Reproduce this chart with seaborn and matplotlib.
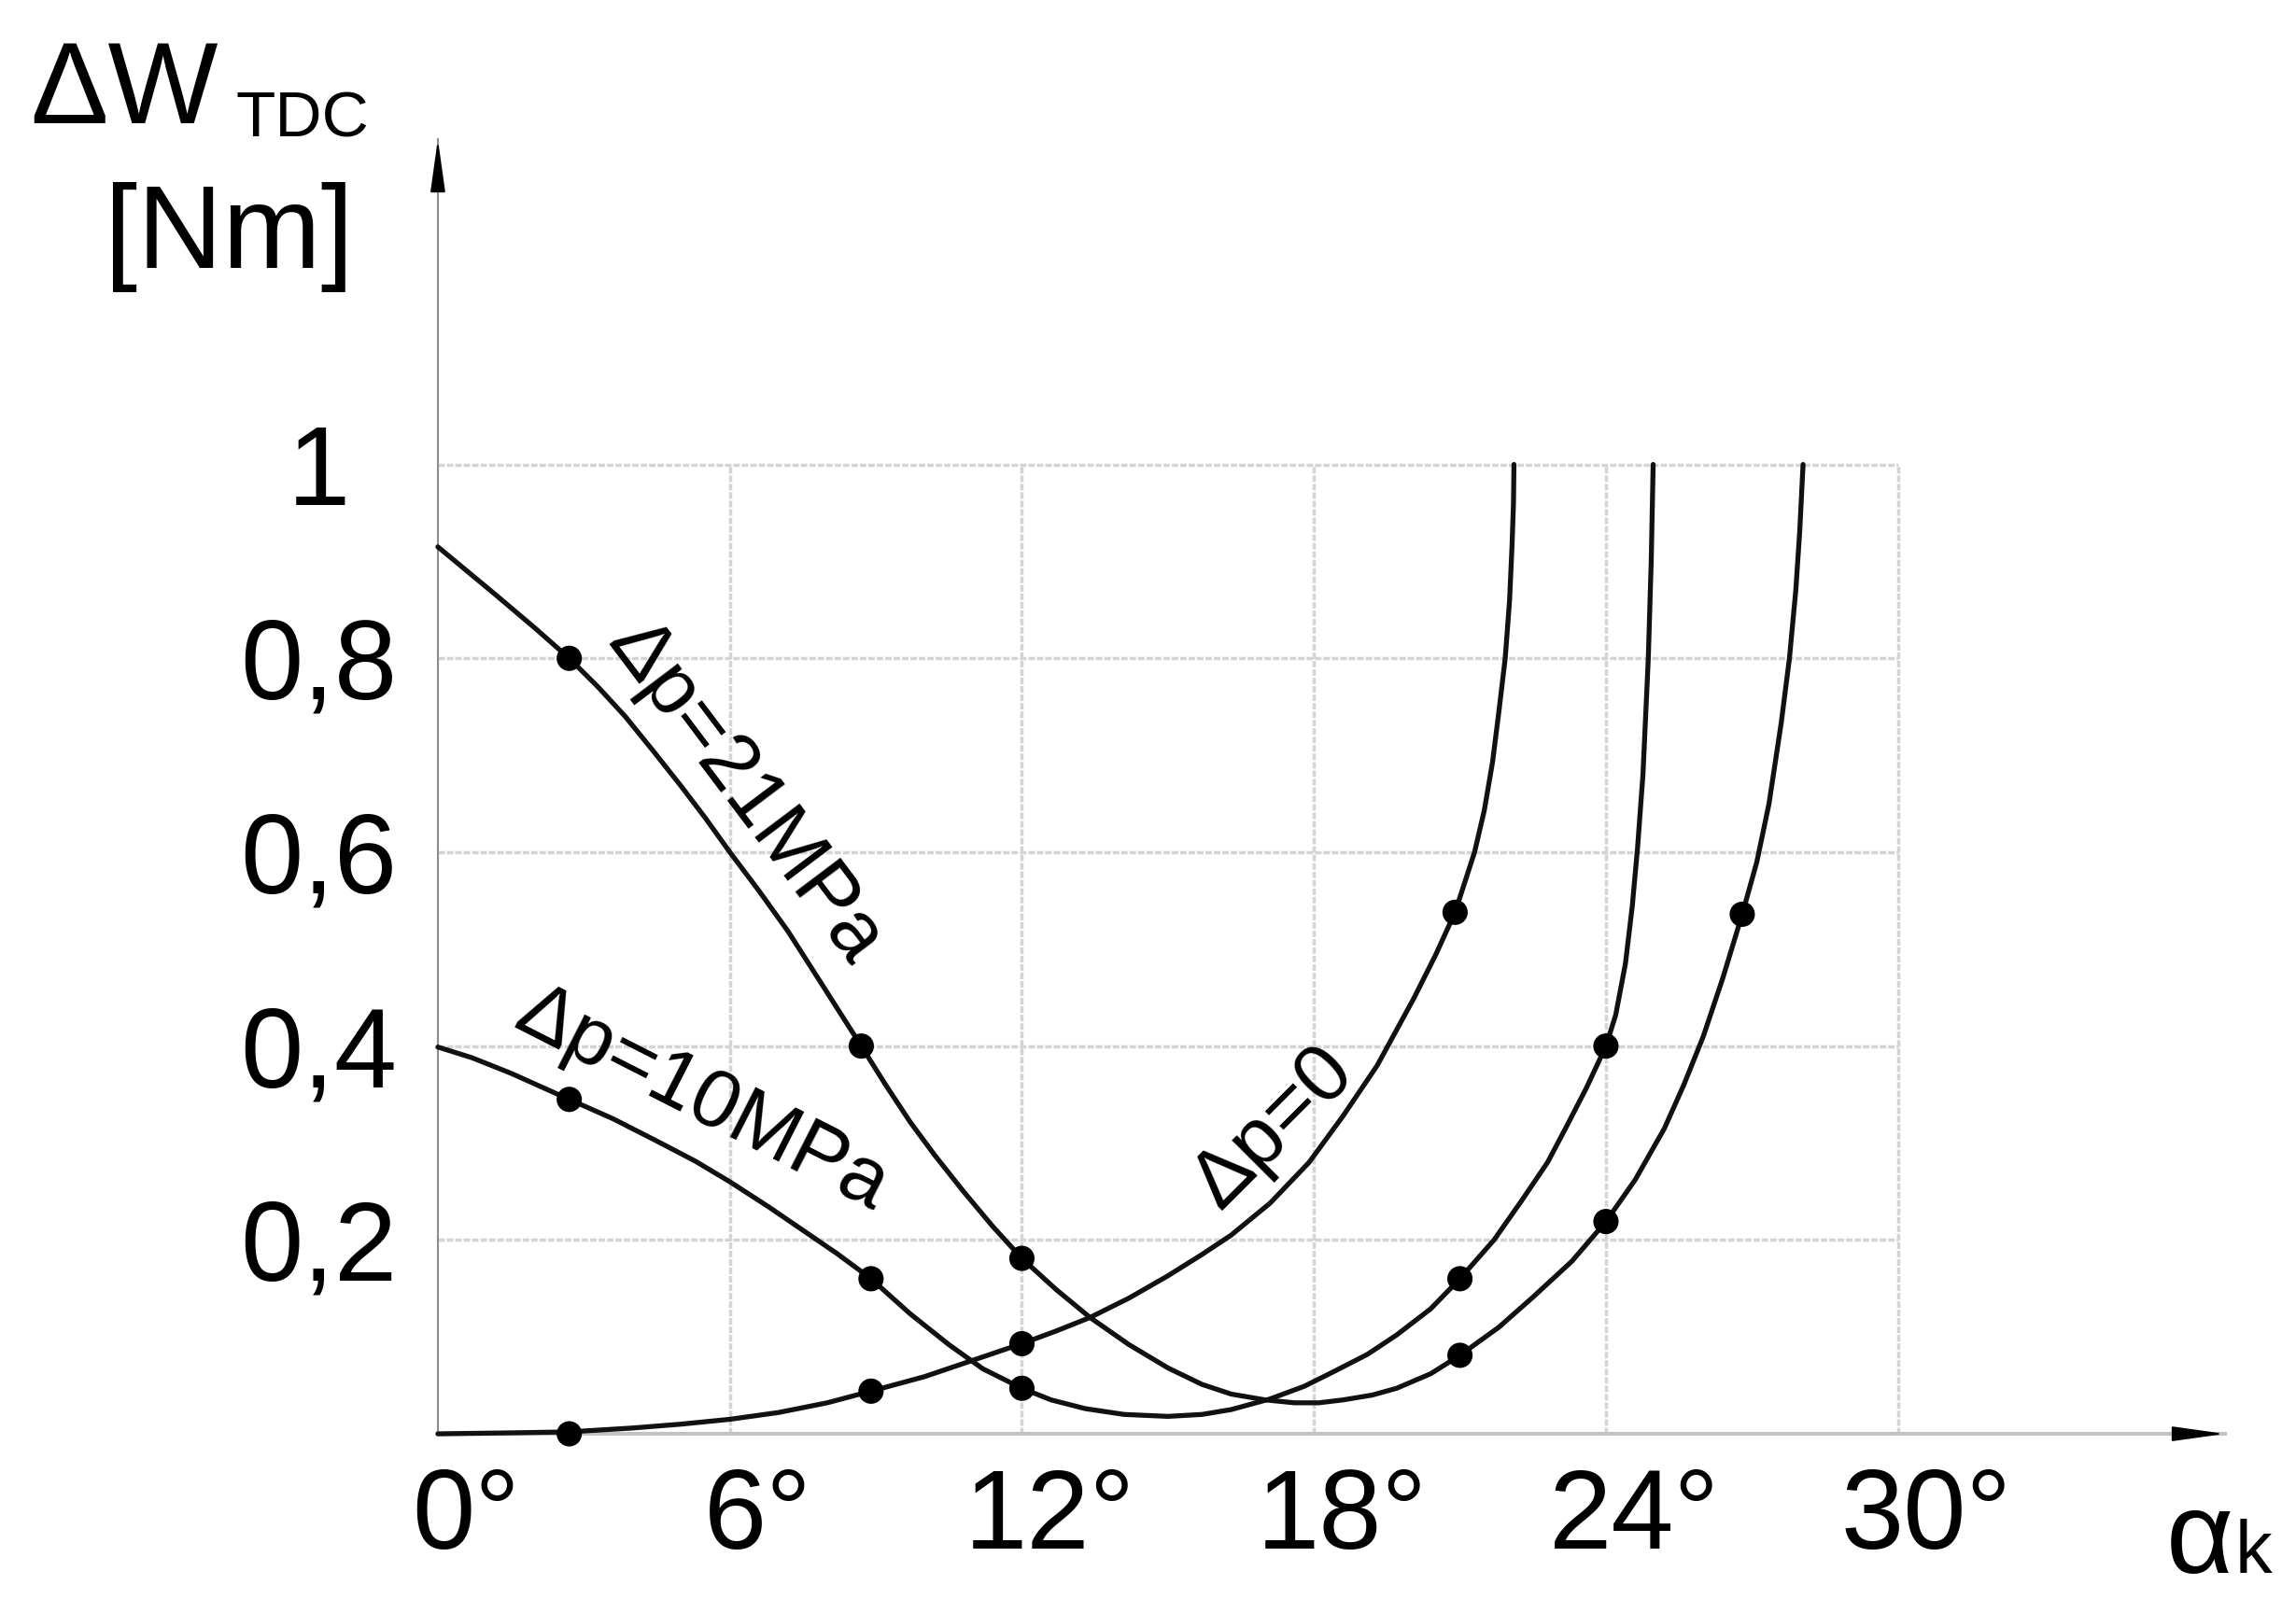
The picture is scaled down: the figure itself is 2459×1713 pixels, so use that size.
import pandas as pd
import seaborn as sns
import matplotlib.pyplot as plt
from matplotlib.transforms import ScaledTranslation

sns.set_theme(style='white')
plt.rcParams['font.family'] = ['Liberation Sans', 'DejaVu Sans']
plt.rcParams['text.color'] = 'black'

# curve dp = 0
deg_p0 = [0, 1.5, 2.7, 4.0, 5.0, 6.0, 7.0, 8.0, 8.9, 10.0, 11.0, 12.0, 12.7, 13.4, 14.2, 15.0, 15.7, 16.3,
          17.1, 17.9, 18.6, 19.3, 20.05, 20.5, 20.9, 21.3, 21.5, 21.67, 21.8, 21.93, 22.02, 22.07, 22.1, 22.11]
val_p0 = [0, 0.001, 0.002, 0.006, 0.010, 0.015, 0.022, 0.032, 0.044, 0.059, 0.076, 0.093, 0.106, 0.120, 0.140, 0.163, 0.185, 0.205,
          0.238, 0.280, 0.328, 0.380, 0.449, 0.494, 0.538, 0.600, 0.643, 0.693, 0.745, 0.800, 0.860, 0.916, 0.960, 1.0]

# curve dp = 10 MPa
deg_p10 = [0, 0.7, 1.5, 2.7, 3.6, 4.5, 5.3, 6.0, 6.8, 7.5, 8.2, 8.9, 9.7, 10.5, 11.2, 12.0, 12.6, 13.3, 14.1, 15.0,
           15.7, 16.3, 17.1, 17.8, 18.4, 19.1, 19.7, 20.4, 21.0, 21.7, 22.26, 22.8, 23.2, 23.6, 24.0, 24.2, 24.4,
           24.54, 24.65, 24.76, 24.87, 24.93, 24.97]
val_p10 = [0.399, 0.388, 0.372, 0.345, 0.325, 0.302, 0.281, 0.260, 0.234, 0.210, 0.186, 0.160, 0.124, 0.092, 0.067, 0.047,
           0.035, 0.026, 0.020, 0.018, 0.020, 0.025, 0.036, 0.049, 0.064, 0.082, 0.102, 0.129, 0.160, 0.200, 0.240, 0.280,
           0.318, 0.357, 0.400, 0.432, 0.485, 0.544, 0.605, 0.680, 0.800, 0.900, 1.0]

# curve dp = 21 MPa
deg_p21 = [0, 0.6, 1.2, 2.0, 2.7, 3.3, 3.85, 4.4, 5.0, 5.5, 6.0, 6.6, 7.2, 7.9, 8.7, 9.2, 9.7, 10.2, 10.8, 11.4,
           12.0, 12.7, 13.4, 14.2, 15.0, 15.7, 16.3, 17.0, 17.6, 18.1, 18.6, 19.2, 19.7, 20.4, 21.0, 21.8, 22.5,
           23.3, 24.0, 24.6, 25.2, 25.6, 26.0, 26.4, 26.8, 27.1, 27.35, 27.6, 27.77, 27.9, 27.98, 28.05]
val_p21 = [0.915, 0.890, 0.865, 0.831, 0.800, 0.770, 0.740, 0.706, 0.668, 0.635, 0.600, 0.560, 0.518, 0.463, 0.400,
           0.360, 0.322, 0.288, 0.250, 0.214, 0.181, 0.149, 0.120, 0.092, 0.068, 0.051, 0.041, 0.035, 0.032, 0.032,
           0.035, 0.040, 0.047, 0.062, 0.081, 0.110, 0.141, 0.178, 0.219, 0.262, 0.315, 0.360, 0.410, 0.470, 0.536,
           0.590, 0.650, 0.733, 0.800, 0.870, 0.930, 1.0]

# measured points (dots)
dot_deg_p0 = [2.7, 8.9, 12.0, 20.9]
dot_val_p0 = [0.0, 0.044, 0.093, 0.538]
dot_deg_p10 = [2.7, 8.9, 12.0, 21.0, 24.0]
dot_val_p10 = [0.345, 0.160, 0.047, 0.160, 0.400]
dot_deg_p21 = [2.7, 8.7, 12.0, 21.0, 24.0, 26.8]
dot_val_p21 = [0.800, 0.400, 0.181, 0.081, 0.219, 0.536]

x_ticks = [0, 6, 12, 18, 24, 30]
x_labels = ['0°', '6°', '12°', '18°', '24°', '30°']
y_ticks = [0.2, 0.4, 0.6, 0.8, 1.0]
y_labels = ['0,2', '0,4', '0,6', '0,8', '1']

curves = pd.concat([
    pd.DataFrame({'deg': deg_p0, 'val': val_p0, 'curve': 'p0'}),
    pd.DataFrame({'deg': deg_p10, 'val': val_p10, 'curve': 'p10'}),
    pd.DataFrame({'deg': deg_p21, 'val': val_p21, 'curve': 'p21'}),
])
dots = pd.concat([
    pd.DataFrame({'deg': dot_deg_p0, 'val': dot_val_p0}),
    pd.DataFrame({'deg': dot_deg_p10, 'val': dot_val_p10}),
    pd.DataFrame({'deg': dot_deg_p21, 'val': dot_val_p21}),
])

fig = plt.figure(figsize=(24.59, 17.13), dpi=100)
ax = fig.add_axes([0.1907, 0.1033, 0.7784, 0.8097])

# grid only inside 0..30 / 0..1
ax.hlines(y_ticks, 0, 30, colors='#d4d4d4', lw=2.5, linestyles=(0, (2, 0.6)), zorder=1)
ax.vlines(x_ticks[1:], 0, 1, colors='#d4d4d4', lw=2.5, linestyles=(0, (2, 0.6)), zorder=1)

sns.lineplot(data=curves, x='deg', y='val', hue='curve', palette=['black'] * 3,
             sort=False, estimator=None, linewidth=3.8, legend=False, ax=ax, zorder=3)
for ln in ax.get_lines():
    ln.set_clip_on(False)
    ln.set_linewidth(3.8)
    ln.set_color('#111111')
    ln.set_solid_joinstyle('round')
sns.scatterplot(data=dots, x='deg', y='val', color='black', s=380, edgecolor='none',
                zorder=5, clip_on=False, ax=ax)

ax.set_xlim(0, 36.72)
ax.set_ylim(0, 1.3356)
ax.set_xlabel('')
ax.set_ylabel('')

for s in ['top', 'right']:
    ax.spines[s].set_visible(False)
ax.spines['left'].set_color('#8c8c8c')
ax.spines['left'].set_linewidth(1.5)
ax.spines['bottom'].set_color('#c2c2c2')
ax.spines['bottom'].set_linewidth(3)

# arrow heads
ax.annotate('', xy=(1, 0), xycoords='axes fraction', xytext=(0.975, 0),
            arrowprops=dict(arrowstyle='-|>,head_length=2.5,head_width=0.35', color='black',
                            lw=1.5, mutation_scale=14, shrinkA=0, shrinkB=0))
ax.annotate('', xy=(0, 1), xycoords='axes fraction', xytext=(0, 0.965),
            arrowprops=dict(arrowstyle='-|>,head_length=2.5,head_width=0.35', color='black',
                            lw=1.5, mutation_scale=14, shrinkA=0, shrinkB=0))

ax.set_xticks(x_ticks, labels=x_labels)
ax.set_yticks(y_ticks, labels=y_labels)
ax.tick_params(axis='both', length=0, labelsize=87, colors='black', labelcolor='black')
ax.tick_params(axis='x', pad=26)
ax.tick_params(axis='y', pad=92)
for lab in ax.get_yticklabels():
    lab.set_ha('center')
shift = ScaledTranslation(0.3, 0, fig.dpi_scale_trans)
for lab in ax.get_xticklabels():
    lab.set_transform(lab.get_transform() + shift)

# curve labels
ax.text(6.3, 0.661, 'Δp=21MPa', rotation=-53, rotation_mode='anchor',
        ha='center', va='center', fontsize=63, color='black')
ax.text(5.42, 0.344, 'Δp=10MPa', rotation=-27, rotation_mode='anchor',
        ha='center', va='center', fontsize=63, color='black')
ax.text(17.17, 0.316, 'Δp=0', rotation=45, rotation_mode='anchor',
        ha='center', va='center', fontsize=63, color='black')

# axis titles
fig.text(0.013, 0.923, 'ΔW', fontsize=90, ha='left', va='baseline', color='black')
fig.text(0.1025, 0.9142, 'TDC', fontsize=50, ha='left', va='baseline', color='black')
fig.text(0.0455, 0.8325, '[Nm]', fontsize=91, ha='left', va='baseline', color='black')
fig.text(0.9435, 0.0163, 'α', fontsize=90, ha='left', va='baseline', color='black')
fig.text(0.9735, 0.0163, 'k', fontsize=57, ha='left', va='baseline', color='black')

fig.savefig('out.png', dpi=100, facecolor='white')
